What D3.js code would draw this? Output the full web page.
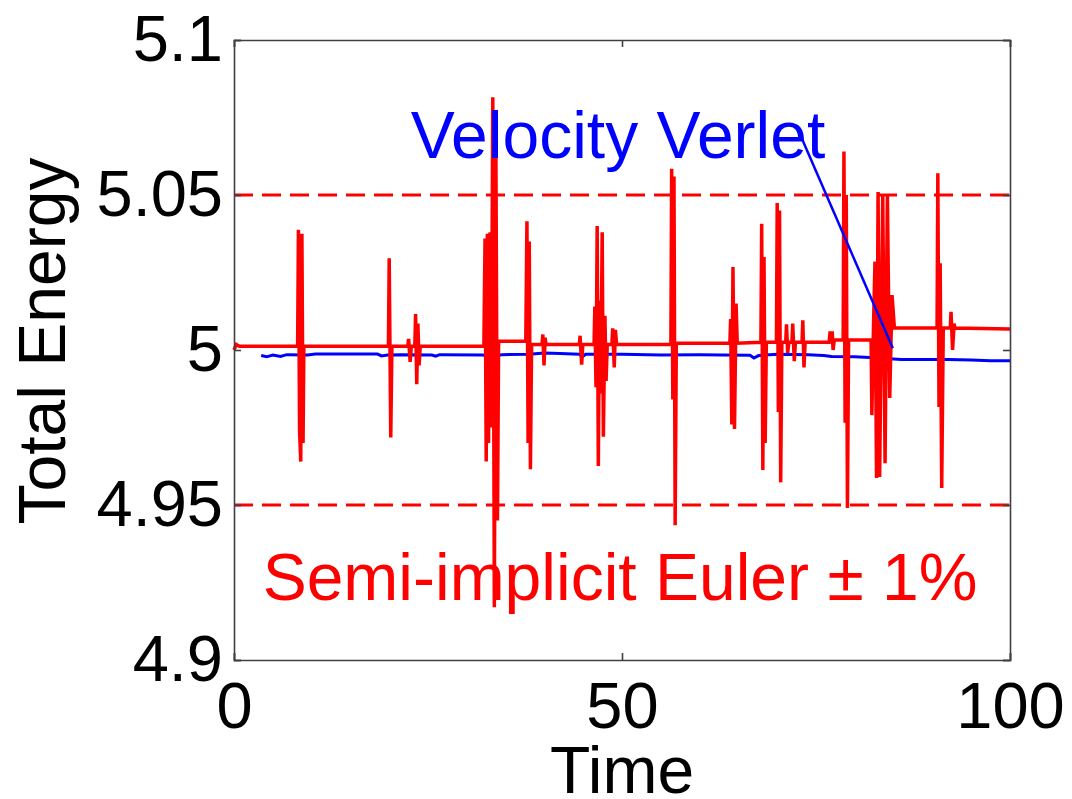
<!DOCTYPE html>
<html>
<head>
<meta charset="utf-8">
<script src="https://cdn.jsdelivr.net/npm/d3@7"></script>
<style>
	body { margin: 0; background: #fff; }
	text { font-family: "Liberation Sans", Arial, sans-serif; }
</style>
</head>
<body>
<div id="chart"></div>
<script>
// Axis ticks
const xTicks = [0, 50, 100];
const yTicks = [4.9, 4.95, 5, 5.05, 5.1];
const yTickLabels = ["4.9", "4.95", "5", "5.05", "5.1"];

// Velocity Verlet energy, [time, energy]
const verlet = [
	[3.5, 4.9982], [4.2, 4.9978], [5.0, 4.9984], [6.0, 4.9979], [6.8, 4.9985],
	[9.5, 4.9984], [10.5, 4.9987], [18.5, 4.9987], [19.0, 4.9981], [19.8, 4.9984],
	[21.5, 4.9985], [25.5, 4.9984], [26.0, 4.9980], [26.5, 4.9985], [32, 4.9984],
	[33.5, 4.9978], [34.5, 4.9985], [38, 4.9986], [40, 4.999], [42, 4.9989],
	[44.5, 4.9986], [44.9, 4.9978], [45.3, 4.9986], [50, 4.9986], [55, 4.9984],
	[60, 4.9985], [63, 4.9984], [66.5, 4.9983], [67, 4.9974], [67.6, 4.9982],
	[70, 4.9986], [74, 4.9985], [76, 4.9982], [77, 4.9979], [80, 4.9978],
	[82.5, 4.9975], [84.5, 4.9972], [86, 4.9969], [92, 4.9969], [95, 4.9968],
	[97.5, 4.9965], [100, 4.9965]
];

// Semi-implicit Euler energy, [time, energy]
const euler = [
	[0, 5.0], [0.3, 5.0018], [0.7, 5.0012],
	[8.2, 5.0012], [8.3, 5.0388], [8.45, 4.974], [8.6, 4.964], [8.75, 5.0375], [8.9, 4.97], [9.0, 5.0012],
	[19.9, 5.0012], [20.0, 5.0296], [20.2, 4.9718], [20.35, 5.0012],
	[22.4, 5.0012], [22.5, 5.0036], [22.7, 4.9962], [22.85, 5.0012],
	[23.3, 5.0012], [23.4, 5.0116], [23.55, 4.989], [23.7, 5.0085], [23.85, 4.995], [24.0, 5.0012],
	[32.2, 5.0012], [32.35, 5.036], [32.5, 4.964], [32.65, 5.0375], [32.8, 4.97], [33.0, 5.038],
	[33.15, 4.975], [33.35, 5.0815], [33.55, 4.917], [33.75, 5.065], [33.95, 4.945], [34.1, 5.0028],
	[37.6, 5.0028], [37.75, 5.0415], [37.9, 4.97], [38.05, 5.035], [38.2, 4.9615], [38.35, 5.0018],
	[39.7, 5.0018], [39.8, 5.005], [39.95, 4.995], [40.1, 5.004], [40.2, 5.0018],
	[44.5, 5.0018], [44.6, 5.0046], [44.8, 4.9953], [44.95, 5.0018],
	[46.4, 5.0018], [46.5, 5.014], [46.65, 4.988], [46.8, 5.04], [46.95, 4.9626], [47.1, 5.016],
	[47.25, 4.986], [47.45, 5.038], [47.6, 4.972], [47.8, 5.011], [47.95, 4.99], [48.1, 5.0018],
	[48.7, 5.0018], [48.8, 5.007], [49.0, 4.9944], [49.15, 5.0065], [49.3, 5.0018],
	[56.3, 5.0018], [56.4, 5.0585], [56.55, 4.984], [56.7, 5.056], [56.85, 4.9435], [57.0, 5.0022],
	[63.9, 5.0022], [64.0, 5.01], [64.15, 4.976], [64.3, 5.0268], [64.5, 4.9745], [64.7, 5.015], [64.85, 5.0022],
	[67.9, 5.0025], [68.0, 5.0407], [68.15, 4.9613], [68.3, 5.03], [68.45, 4.97], [68.6, 5.0025],
	[69.9, 5.0025], [70.0, 5.0474], [70.15, 4.98], [70.3, 5.045], [70.45, 4.9573], [70.6, 5.0025],
	[71.1, 5.0025], [71.2, 5.0083], [71.35, 4.999], [71.5, 5.0025],
	[71.9, 5.0025], [72.0, 5.0085], [72.2, 4.9964], [72.35, 5.0025],
	[73.2, 5.0025], [73.3, 5.0096], [73.45, 4.9944], [73.6, 5.0025],
	[76.7, 5.0025], [76.8, 5.0055], [77.1, 5.0055], [77.2, 5.0], [77.35, 5.0032],
	[78.5, 5.0032], [78.6, 5.064], [78.75, 4.9765], [78.9, 5.05], [79.05, 4.949], [79.2, 5.0032],
	[82.1, 5.0032], [82.2, 4.979], [82.4, 5.0065], [82.6, 5.0285], [82.8, 4.9587], [83.0, 5.051],
	[83.2, 4.959], [83.6, 5.05], [83.9, 4.9635], [84.2, 5.05], [84.5, 4.9845], [84.8, 5.0177], [85.1, 5.0071],
	[90.6, 5.0071], [90.7, 5.057], [90.85, 4.9816], [91.0, 5.028], [91.2, 4.9555], [91.4, 5.0071],
	[92.3, 5.0071], [92.4, 5.0123], [92.6, 5.0], [92.8, 5.0085], [92.9, 5.0071],
	[100, 5.0068]
];

// +/- 1% band and the label pointer
const bandLevels = [4.95, 5.05];
const pointerT = [72.7, 84.9];
const pointerE = [5.071, 5.0006];

const width = 1072, height = 799;
const margin = { top: 40, right: 62, bottom: 139, left: 234 };

const svg = d3.select("#chart").append("svg")
	.attr("width", width)
	.attr("height", height);

svg.append("rect").attr("width", width).attr("height", height).attr("fill", "#fff");

const x = d3.scaleLinear().domain([0, 100]).range([margin.left, width - margin.right]);
const y = d3.scaleLinear().domain([4.9, 5.1]).range([height - margin.bottom, margin.top]);

const plot = svg.append("g");

// dashed band lines
plot.selectAll(".band")
	.data(bandLevels)
	.join("line")
	.attr("x1", x(0)).attr("x2", x(100))
	.attr("y1", (d) => y(d)).attr("y2", (d) => y(d))
	.attr("stroke", "#ff0000")
	.attr("stroke-width", 3)
	.attr("stroke-dasharray", "19,9");

const line = d3.line().x((d) => x(d[0])).y((d) => y(d[1]));

plot.append("path")
	.datum(verlet)
	.attr("d", line)
	.attr("fill", "none")
	.attr("stroke", "#0000ff")
	.attr("stroke-width", 3);

plot.append("path")
	.datum(euler)
	.attr("d", line)
	.attr("fill", "none")
	.attr("stroke", "#ff0000")
	.attr("stroke-width", 3.5);

// pointer from label to curve
plot.append("line")
	.attr("x1", x(pointerT[0])).attr("y1", y(pointerE[0]))
	.attr("x2", x(pointerT[1])).attr("y2", y(pointerE[1]))
	.attr("stroke", "#0000ff")
	.attr("stroke-width", 2.5);

// axes, ticks pointing inward
const axisColor = "#404040";
const fontSize = 65;

svg.append("g")
	.attr("transform", `translate(0,${y(4.9)})`)
	.call(d3.axisBottom(x).tickValues(xTicks).tickSize(-7).tickPadding(22).tickFormat(d3.format("d")));
svg.append("g")
	.attr("transform", `translate(${x(0)},0)`)
	.call(d3.axisLeft(y).tickValues(yTicks).tickSize(-7).tickPadding(11)
		.tickFormat((d, i) => yTickLabels[i]));
svg.append("g")
	.attr("transform", `translate(0,${y(5.1)})`)
	.call(d3.axisTop(x).tickValues(xTicks).tickSize(-7).tickFormat(""));
svg.append("g")
	.attr("transform", `translate(${x(100)},0)`)
	.call(d3.axisRight(y).tickValues(yTicks).tickSize(-7).tickFormat(""));

svg.selectAll(".domain, .tick line").attr("stroke", axisColor).attr("stroke-width", 1.6);
svg.selectAll(".tick text")
	.attr("fill", "#000")
	.style("font-size", fontSize + "px")
	.style("font-family", "'Liberation Sans', Arial, sans-serif");

// axis titles
svg.append("text")
	.attr("x", x(50))
	.attr("y", 793)
	.attr("text-anchor", "middle")
	.style("font-size", "66px")
	.text("Time");

svg.append("text")
	.attr("transform", "translate(65,341) rotate(-90)")
	.attr("text-anchor", "middle")
	.style("font-size", "66px")
	.text("Total Energy");

// in-plot labels
svg.append("text")
	.attr("x", 618)
	.attr("y", 158)
	.attr("text-anchor", "middle")
	.attr("fill", "#0000ff")
	.style("font-size", "66px")
	.text("Velocity Verlet");

svg.append("text")
	.attr("x", 620)
	.attr("y", 600)
	.attr("text-anchor", "middle")
	.attr("fill", "#ff0000")
	.style("font-size", "66px")
	.text("Semi-implicit Euler ± 1%");
</script>
</body>
</html>
